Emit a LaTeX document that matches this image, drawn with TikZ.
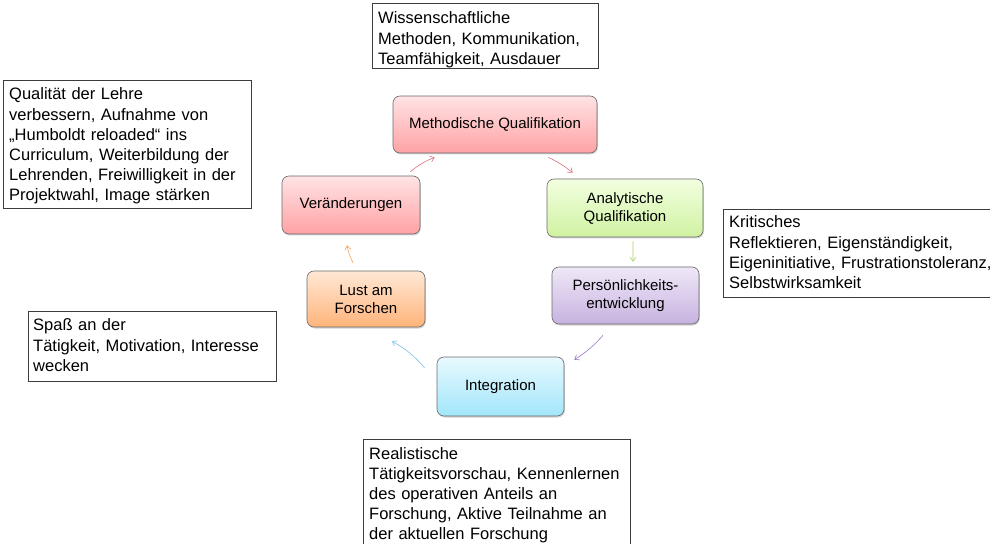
\documentclass[tikz,border=0pt]{standalone}
\usepackage{fontspec}
\setmainfont{Liberation Sans}
\usetikzlibrary{arrows.meta,shadows,calc}
\definecolor{cycborder}{HTML}{6A6A6A}
\definecolor{boxborder}{HTML}{3C3C3C}
\definecolor{pinkT}{HTML}{FFE3E5}
\definecolor{pinkB}{HTML}{FFA2A4}
\definecolor{greenT}{HTML}{F2FFE0}
\definecolor{greenB}{HTML}{D0F2A2}
\definecolor{purpT}{HTML}{EFE8F7}
\definecolor{purpB}{HTML}{C7B2E0}
\definecolor{orT}{HTML}{FFE8D6}
\definecolor{orB}{HTML}{FFB47A}
\definecolor{cyT}{HTML}{E8F9FE}
\definecolor{cyB}{HTML}{A2E6FB}
\definecolor{arrRed}{HTML}{DB6F7A}
\definecolor{arrGreen}{HTML}{A9CF62}
\definecolor{arrPurp}{HTML}{9675C6}
\definecolor{arrCyan}{HTML}{78C3E0}
\definecolor{arrOr}{HTML}{F3A25E}
\tikzset{
  cyc/.style={rounded corners=7bp, draw=cycborder, line width=0.6bp,
    align=center, inner sep=0pt,
    font=\fontsize{15bp}{18bp}\selectfont,
    drop shadow={shadow xshift=0.8bp, shadow yshift=-1.5bp, opacity=0.35}},
  tbox/.style={draw=boxborder, line width=0.8bp, inner sep=0pt, anchor=north west},
  obox/.style={inner sep=0pt, anchor=north west},
  ttext/.style={anchor=base west, inner sep=0pt, align=left, text width=300bp,
    font=\fontsize{16.5bp}{20.2bp}\selectfont},
  arr/.style={line width=0.6bp, -{Straight Barb[length=4bp,width=6bp]}}
}
\begin{document}
\begin{tikzpicture}[x=1bp,y=-1bp]
\useasboundingbox (0,0) rectangle (990,544);

% cycle nodes
\node[cyc, top color=pinkT, bottom color=pinkB, minimum width=204bp, minimum height=57bp] (meth) at (495,124.5) {Methodische Qualifikation};
\node[cyc, top color=pinkT, bottom color=pinkB, minimum width=138bp, minimum height=58bp] (ver) at (351,205) {Veränderungen};
\node[cyc, top color=greenT, bottom color=greenB, minimum width=156bp, minimum height=58bp] (ana) at (625,208) {Analytische\\Qualifikation};
\node[cyc, top color=purpT, bottom color=purpB, minimum width=147bp, minimum height=57bp] (per) at (625.5,295.5) {Persönlichkeits-\\entwicklung};
\node[cyc, top color=orT, bottom color=orB, minimum width=118bp, minimum height=56bp] (lust) at (366,299) {Lust am\\Forschen};
\node[cyc, top color=cyT, bottom color=cyB, minimum width=127bp, minimum height=59bp] (integ) at (500.5,386.5) {Integration};

% connectors
\draw[arr, arrRed] ($(ver.north east)+(-10,-4)$) to[bend left=8] ($(meth.south west)+(42,4)$);
\draw[arr, arrRed] ($(meth.south east)+(-49,4)$) to[bend left=6] ($(ana.north west)+(26,-6)$);
\draw[arr, arrGreen] ($(ana.south)+(8,4)$) to ($(per.north)+(7.5,-5)$);
\draw[arr, arrPurp] ($(per.south)+(-22.5,11)$) to[bend left=8] ($(integ.north east)+(10,3)$);
\draw[arr, arrCyan] ($(integ.west)+(-12,-18.5)$) to[bend right=10] ($(lust.south)+(26,14)$);
\draw[arr, arrOr] ($(lust.north)+(-13,-8)$) to[bend left=8] ($(ver.south)+(-4,11)$);

% text boxes
\node[tbox, minimum width=226bp, minimum height=65bp] (b1) at (372,3) {};
\node[ttext] (t1) at ($(b1.north west)+(6,21)$) {Wissenschaftliche\\Methoden, Kommunikation,\\Teamfähigkeit, Ausdauer};

\node[tbox, minimum width=248bp, minimum height=128bp] (b2) at (3,80) {};
\node[ttext] (t2) at ($(b2.north west)+(6,20)$) {Qualität der Lehre\\verbessern, Aufnahme von\\„Humboldt reloaded“ ins\\Curriculum, Weiterbildung der\\Lehrenden, Freiwilligkeit in der\\Projektwahl, Image stärken};

\node[obox, minimum width=275bp, minimum height=88bp] (b3) at (723,209) {};
\draw[boxborder, line width=0.8bp] (b3.north east) -- (b3.north west) -- (b3.south west) -- (b3.south east);
\node[ttext] (t3) at ($(b3.north west)+(6,19)$) {Kritisches\\Reflektieren, Eigenständigkeit,\\Eigeninitiative, Frustrationstoleranz,\\Selbstwirksamkeit};

\node[tbox, minimum width=248bp, minimum height=70bp] (b4) at (28,311) {};
\node[ttext] (t4) at ($(b4.north west)+(5,20)$) {Spaß an der\\Tätigkeit, Motivation, Interesse\\wecken};

\node[obox, minimum width=267bp, minimum height=115bp] (b5) at (363,439) {};
\draw[boxborder, line width=0.8bp] (b5.south west) -- (b5.north west) -- (b5.north east) -- (b5.south east);
\node[ttext] (t5) at ($(b5.north west)+(6,20)$) {Realistische\\Tätigkeitsvorschau, Kennenlernen\\des operativen Anteils an\\Forschung, Aktive Teilnahme an\\der aktuellen Forschung};
\end{tikzpicture}
\end{document}
